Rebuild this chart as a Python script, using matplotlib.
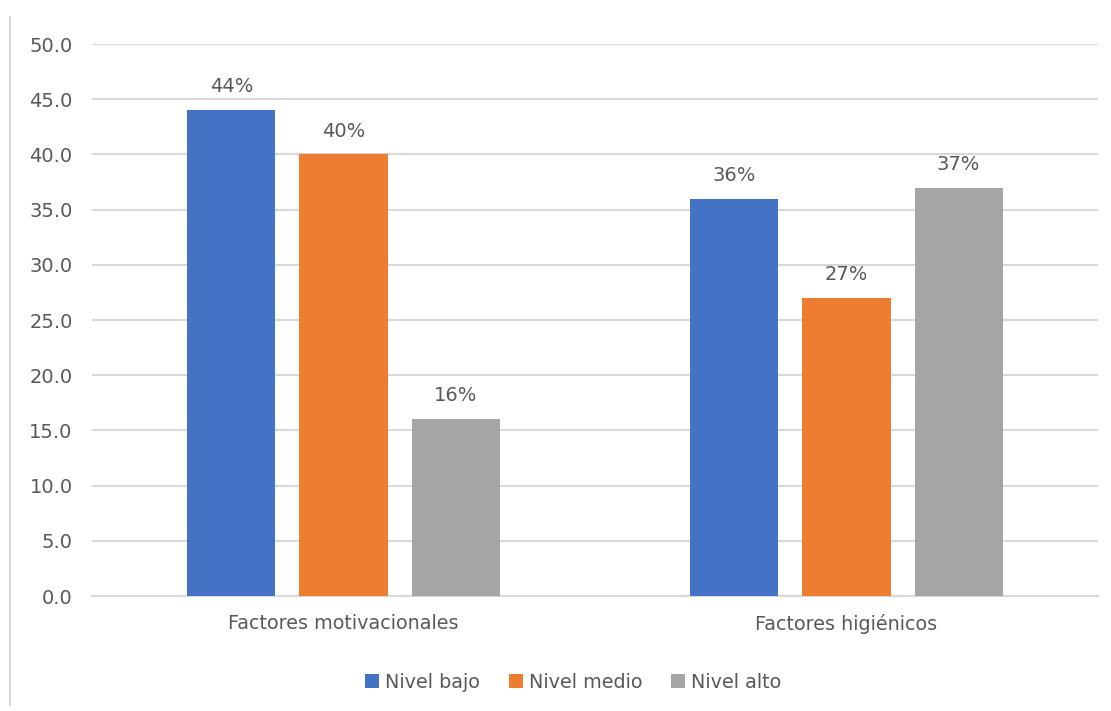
import numpy as np
import matplotlib.pyplot as plt
from matplotlib.patches import Patch
from matplotlib.lines import Line2D

plt.rcParams['font.family'] = ['DejaVu Sans']

categories = ['Factores motivacionales', 'Factores higiénicos']
series = ['Nivel bajo', 'Nivel medio', 'Nivel alto']
values = {
    'Nivel bajo': [44, 36],
    'Nivel medio': [40, 27],
    'Nivel alto': [16, 37],
}
colors = ['#4472C4', '#ED7D31', '#A5A5A5']
yticks = [0, 5, 10, 15, 20, 25, 30, 35, 40, 45, 50]

text_color = '#595959'
grid_color = '#D9D9D9'

fig = plt.figure(figsize=(11.11, 7.11), dpi=100)
ax = fig.add_axes([92 / 1111, 1 - 596 / 711, 1006 / 1111, 552 / 711])

x = np.arange(len(categories))
width = 0.175
step = 0.2227
for i, (name, color) in enumerate(zip(series, colors)):
    pos = x + (i - 1) * step
    bars = ax.bar(pos, values[name], width=width, color=color, zorder=3)
    for b, v in zip(bars, values[name]):
        ax.annotate(f'{v}%', (b.get_x() + b.get_width() / 2, v),
                    xytext=(0, 10), textcoords='offset points',
                    ha='center', va='bottom', fontsize=14, color=text_color)

ax.set_xlim(-0.5, 1.5)
ax.set_ylim(0, 50)
ax.set_yticks(yticks)
ax.set_yticklabels([f'{t:.1f}' for t in yticks], fontsize=14, color=text_color)
ax.set_xticks(x)
ax.set_xticklabels(categories, fontsize=13.8, color=text_color)
ax.tick_params(axis='both', length=0)
ax.tick_params(axis='y', pad=14)
ax.tick_params(axis='x', pad=13)
ax.grid(axis='y', color=grid_color, linewidth=1.5, zorder=0)
for s in ['top', 'right', 'left']:
    ax.spines[s].set_visible(False)
ax.spines['bottom'].set_color(grid_color)
ax.spines['bottom'].set_linewidth(1.5)

handles = [Patch(facecolor=c, label=n) for n, c in zip(series, colors)]
fig.legend(handles=handles, loc='center', bbox_to_anchor=(573 / 1111, 1 - 682 / 711),
           ncol=3, frameon=False, fontsize=13.8, labelcolor=text_color,
           handlelength=0.75, handleheight=0.75, handletextpad=0.3, columnspacing=1.5)

# thin frame line on the left side of the figure
fig.add_artist(Line2D([10 / 1111, 10 / 1111], [1 - 705 / 711, 1 - 17 / 711],
                      color=grid_color, linewidth=1.5))

fig.savefig('out.png', dpi=100)
